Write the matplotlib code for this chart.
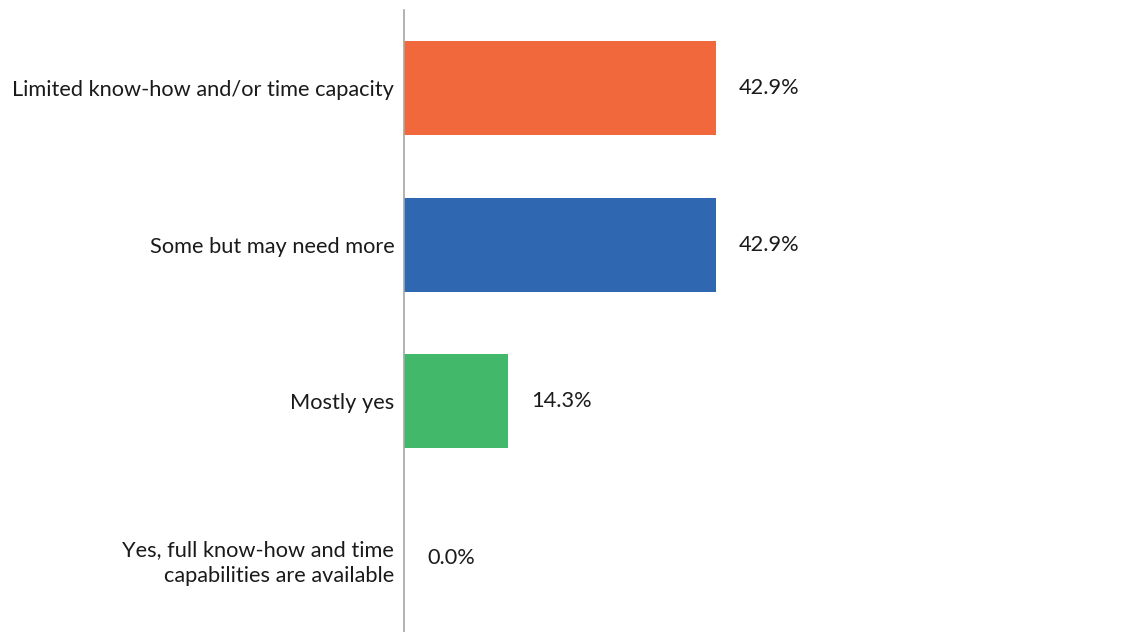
import matplotlib.pyplot as plt

categories = ['Limited know-how and/or time capacity',
              'Some but may need more',
              'Mostly yes',
              'Yes, full know-how and time\ncapabilities are available']
values = [42.9, 42.9, 14.3, 0.0]
colors = ['#F0683C', '#2F67B1', '#41B86A', '#41B86A']

plt.rcParams['font.family'] = ['Lato', 'DejaVu Sans']

fig = plt.figure(figsize=(11.23, 6.32), dpi=100)
ax = fig.add_axes([404/1123, -4/632, 719/1123, 626/632])

y = range(len(categories))
ax.barh(y, values, height=0.6, color=colors)
ax.set_ylim(len(categories) - 0.5, -0.5)
ax.set_xlim(0, 719/7.273)

for i, v in enumerate(values):
    ax.annotate(f'{v:.1f}%', (v, i), xytext=(23, 0), textcoords='offset pixels',
                va='center', ha='left', fontsize=15.7, color='#1a1a1a')

ax.set_yticks(list(y))
ax.set_yticklabels(categories, fontsize=15.7, color='#1a1a1a', linespacing=1.42)
ax.tick_params(axis='y', length=0, pad=7)
ax.set_xticks([])
for s in ['top', 'right', 'bottom']:
    ax.spines[s].set_visible(False)
ax.spines['left'].set_color('#A6A6A6')
ax.spines['left'].set_linewidth(1.2)

fig.savefig('out.png', dpi=100)
